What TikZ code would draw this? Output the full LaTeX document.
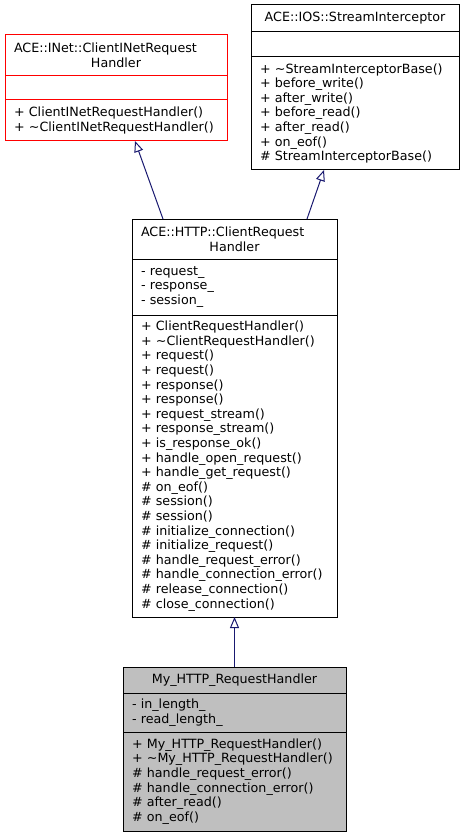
\documentclass[tikz,border=0pt]{standalone}
\usepackage{fontspec}
\setmainfont{DejaVu Sans}
\usetikzlibrary{positioning,arrows.meta}
\definecolor{edgeblue}{HTML}{191970}
\definecolor{curgray}{HTML}{BFBFBF}

\begin{document}
\begin{tikzpicture}[x=1pt, y=-1pt,
    part/.style={draw, line width=1pt, fill=white, anchor=north west,
        inner xsep=9pt, inner ysep=0pt, outer sep=0pt, align=left,
        font=\fontsize{12.7}{14.6}\selectfont},
    title/.style={part, align=center},
    inherit/.style={draw=edgeblue, line width=1pt,
        -{Triangle[open, length=11pt, width=9pt]}}]
    \useasboundingbox (0,0) rectangle (464,837);

    % ACE::INet::ClientINetRequestHandler
    \node[part, draw=red, text width=204pt, minimum height=41pt] (inetT) at (5,35)
        {ACE::INet::ClientINetRequest\\\makebox[\hsize]{Handler}};
    \node[part, draw=red, text width=204pt, minimum height=24pt, below=0pt of inetT] (inetA) {};
    \node[part, draw=red, text width=204pt, minimum height=41pt, below=0pt of inetA] (inetO)
        {+ ClientINetRequestHandler()\\+ \textasciitilde ClientINetRequestHandler()};

    % ACE::IOS::StreamInterceptor
    \node[title, text width=190pt, minimum height=27pt] (iosT) at (251,5)
        {ACE::IOS::StreamInterceptor};
    \node[part, text width=190pt, minimum height=25pt, below=0pt of iosT] (iosA) {};
    \node[part, text width=190pt, minimum height=113pt, below=0pt of iosA] (iosO)
        {+ \textasciitilde StreamInterceptorBase()\\+ before\_write()\\+ after\_write()\\
         + before\_read()\\+ after\_read()\\+ on\_eof()\\\# StreamInterceptorBase()};

    % ACE::HTTP::ClientRequestHandler
    \node[part, text width=187pt, minimum height=40pt] (httpT) at (132,219)
        {ACE::HTTP::ClientRequest\\\makebox[\hsize]{Handler}};
    \node[part, text width=187pt, minimum height=56pt, below=0pt of httpT] (httpA)
        {- request\_\\- response\_\\- session\_};
    \node[part, text width=187pt, minimum height=302pt, below=0pt of httpA] (httpO)
        {+ ClientRequestHandler()\\+ \textasciitilde ClientRequestHandler()\\
         + request()\\+ request()\\+ response()\\+ response()\\
         + request\_stream()\\+ response\_stream()\\+ is\_response\_ok()\\
         + handle\_open\_request()\\+ handle\_get\_request()\\
         \# on\_eof()\\\# session()\\\# session()\\
         \# initialize\_connection()\\\# initialize\_request()\\
         \# handle\_request\_error()\\\# handle\_connection\_error()\\
         \# release\_connection()\\\# close\_connection()};

    % My_HTTP_RequestHandler
    \node[title, fill=curgray, text width=205pt, minimum height=26pt] (myT) at (123,667)
        {My\_HTTP\_RequestHandler};
    \node[part, fill=curgray, text width=205pt, minimum height=39pt, below=0pt of myT] (myA)
        {- in\_length\_\\- read\_length\_};
    \node[part, fill=curgray, text width=205pt, minimum height=99pt, below=0pt of myA] (myO)
        {+ My\_HTTP\_RequestHandler()\\+ \textasciitilde My\_HTTP\_RequestHandler()\\
         \# handle\_request\_error()\\\# handle\_connection\_error()\\
         \# after\_read()\\\# on\_eof()};

    % Draw connections
    \draw[inherit] ([xshift=31pt]httpT.north west) -- ([xshift=130pt]inetO.south west);
    \draw[inherit] ([xshift=175pt]httpT.north west) -- ([xshift=73pt]iosO.south west);
    \draw[inherit] (myT.north) -- (httpO.south);
\end{tikzpicture}
\end{document}
